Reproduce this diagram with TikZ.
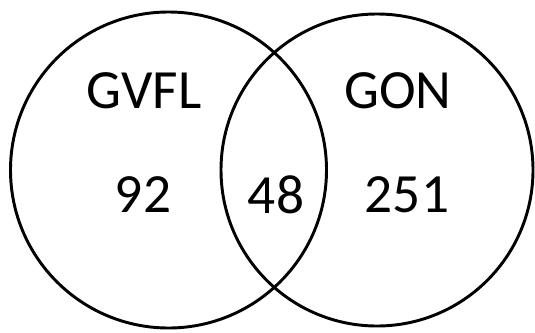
\documentclass[tikz,border=0pt]{standalone}
\usepackage{fontspec}
\setmainfont{Carlito}

\begin{document}
\begin{tikzpicture}[x=0.75pt,y=0.75pt,yscale=-1,xscale=1,
	venn/.style={line width=2.2pt},
	label/.style={font=\fontsize{41.5}{50}\selectfont, inner sep=0pt}]
	\useasboundingbox (0,0) rectangle (535,332);
	
	%Shape: Circle [left set]
	\draw [venn] (168.5,170) circle (158);
	%Shape: Circle [right set]
	\draw [venn] (377,170) circle (156);
	
	% Text Node
	\node [label] (gvfl) at (144,91) {GVFL};
	% Text Node
	\node [label] (gon) at (398,91) {GON};
	% Text Node
	\node [label] (onlyGvfl) at (143,195) {92};
	% Text Node
	\node [label] (both) at (276,195) {48};
	% Text Node
	\node [label] (onlyGon) at (407,195) {251};
\end{tikzpicture}
\end{document}
